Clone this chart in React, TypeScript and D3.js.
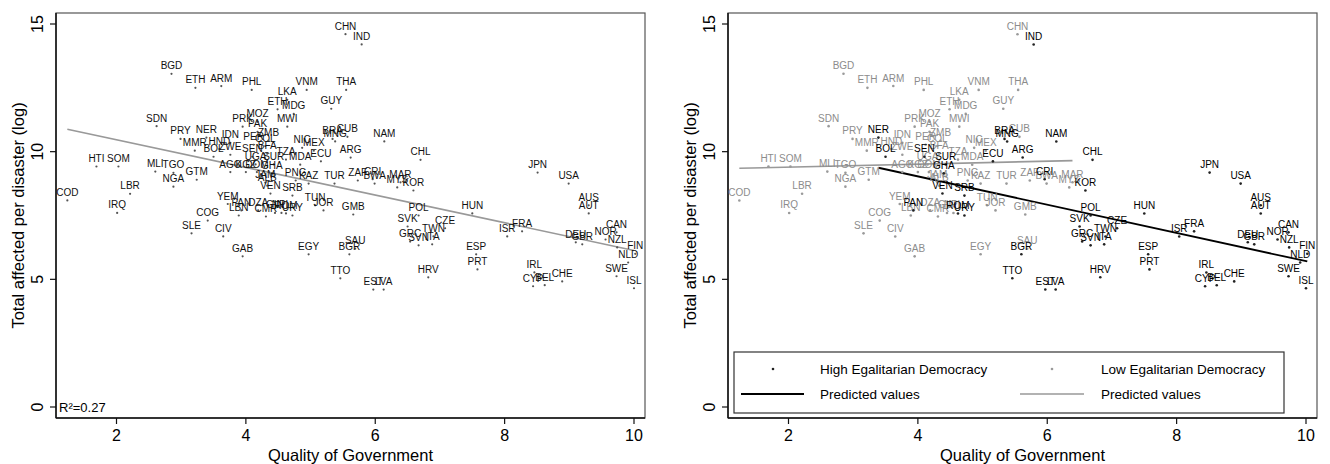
import React from 'react';
import * as d3 from 'd3';

// country codes, quality of government, total affected per disaster (log), high egalitarian democracy flag
const codes = ['BGD','ETH','ARM','PHL','VNM','LKA','ETH','MDG','GUY','THA','CHN','IND','MWI','PRK','MOZ','PAK','SDN','PRY','NER','MMR','HND','IDN','BOL','ZWE','SEN','PER','COL','ZMB','BFA','UGA','SUR','TZA','MDA','ECU','HTI','SOM','MLI','TGO','GTM','NGA','COD','LBR','IRQ','AGO','KGZ','DOM','GHA','JAM','ALB','PNG','KAZ','VEN','SRB','TUR','ZAF','CRI','BWA','MYS','MAR','KOR','ARG','CHL','NAM','BRA','MNG','CUB','NIC','MEX','PAN','DZA','LBN','CMR','GIN','ROM','URY','NPL','YEM','TUN','JOR','GMB','COG','SLE','CIV','GAB','EGY','SAU','BGR','TTO','EST','LVA','HRV','GRC','SVN','ITA','TWN','SVK','CZE','POL','HUN','ESP','PRT','ISR','FRA','IRL','CYP','BEL','CHE','DEU','GBR','NOR','CAN','NZL','FIN','NLD','SWE','ISL','AUS','AUT','JPN','USA'];
const qog = [2.85,3.22,3.62,4.09,4.94,4.64,4.49,4.74,5.32,5.55,5.54,5.79,4.64,3.95,4.18,4.18,2.62,2.99,3.39,3.21,3.59,3.76,3.5,3.76,4.1,4.12,4.3,4.35,4.33,4.15,4.43,4.62,4.84,5.16,1.69,2.03,2.6,2.88,3.24,2.88,1.24,2.21,2.01,3.76,4.0,4.17,4.4,4.3,4.33,4.77,4.97,4.38,4.72,5.37,5.73,5.96,5.99,6.34,6.39,6.59,5.62,6.7,6.14,5.34,5.38,5.57,4.87,5.05,3.93,4.19,3.89,4.31,4.45,4.62,4.72,4.55,3.72,5.07,5.2,5.66,3.41,3.16,3.65,3.95,4.97,5.69,5.6,5.46,5.97,6.13,6.82,6.54,6.67,6.88,6.9,6.5,7.08,6.67,7.5,7.56,7.58,8.04,8.27,8.46,8.44,8.62,8.89,9.1,9.2,9.56,9.73,9.74,10.02,9.91,9.73,10.0,9.3,9.3,8.51,8.99];
const affected = [13.05,12.5,12.57,12.42,12.42,12.03,11.66,11.48,11.68,12.42,14.6,14.2,10.98,10.98,11.17,10.78,11.0,10.5,10.55,10.04,10.1,10.35,9.8,9.88,9.8,10.27,10.22,10.43,9.92,9.5,9.5,9.69,9.49,9.62,9.42,9.42,9.22,9.17,8.9,8.63,8.09,8.35,7.6,9.2,9.2,9.2,9.15,8.79,8.67,8.87,8.75,8.36,8.28,8.75,8.87,8.92,8.75,8.6,8.8,8.48,9.77,9.68,10.4,10.5,10.4,10.58,10.15,10.04,7.7,7.7,7.5,7.46,7.6,7.58,7.5,7.6,7.95,7.9,7.7,7.54,7.3,6.8,6.68,5.9,5.98,6.2,5.98,5.04,4.6,4.6,5.08,6.48,6.33,6.37,6.68,7.07,7.0,7.5,7.58,5.98,5.39,6.68,6.88,5.27,4.73,4.77,4.92,6.45,6.37,6.56,6.84,6.25,6.0,5.66,5.12,4.65,7.9,7.58,9.18,8.75];
const highEgal = [0,0,0,0,0,0,0,0,0,0,0,1,0,0,0,0,0,0,1,0,0,0,1,0,1,0,0,0,0,0,1,0,0,1,0,0,0,0,0,0,0,0,0,0,0,0,1,0,0,0,0,1,1,0,0,1,0,0,0,1,1,1,1,1,1,0,0,0,1,0,0,0,0,1,1,0,0,0,0,0,0,0,0,0,0,0,1,1,1,1,1,1,1,1,1,1,1,1,1,1,1,1,1,1,1,1,1,1,1,1,1,1,1,1,1,1,1,1,1,1];

// predicted values (linear fits), end points
const fitAllX = [1.24, 10.0];
const fitAllY = [10.88, 6.13];
const fitHighX = [3.39, 10.02];
const fitHighY = [9.37, 5.7];
const fitLowX = [1.24, 6.39];
const fitLowY = [9.35, 9.65];

const xTicks = [2, 4, 6, 8, 10];
const yTicks = [0, 5, 10, 15];

const FONT = 'Liberation Sans, Arial, Helvetica, sans-serif';
const W = 1330;
const H = 464;

type Pt = { code: string; x: number; y: number; high: boolean };
const points: Pt[] = codes.map((c, i) => ({ code: c, x: qog[i], y: affected[i], high: highEgal[i] === 1 }));

const Panel = ({ off, split }: { off: number; split: boolean }) => {
  const left = 56 + off, right = 645 + off, top = 13, bottom = 418;
  const x = d3.scaleLinear().domain([2, 10]).range([116.5 + off, 634 + off]);
  const y = d3.scaleLinear().domain([0, 15]).range([407, 24]);
  const line = d3.line<[number, number]>().x(d => x(d[0])).y(d => y(d[1]));
  const seg = (xs: number[], ys: number[]) => line(xs.map((v, i) => [v, ys[i]] as [number, number])) || '';

  const ordered = split ? [...points.filter(p => !p.high), ...points.filter(p => p.high)] : points;
  const midY = (top + bottom) / 2;

  return (
    <g>
      <rect x={left} y={top} width={right - left} height={bottom - top} fill="none" stroke="#555" strokeWidth={1.2} />
      <line x1={left} x2={left} y1={top} y2={bottom} stroke="#111" strokeWidth={1.5} />
      <line x1={left} x2={right} y1={bottom} y2={bottom} stroke="#111" strokeWidth={1.5} />
      {yTicks.map(t => (
        <g key={'y' + t}>
          <line x1={left - 6} x2={left} y1={y(t)} y2={y(t)} stroke="#111" strokeWidth={1.2} />
          <text transform={`translate(${left - 13},${y(t)}) rotate(-90)`} textAnchor="middle" fontSize={16} fontFamily={FONT}>{t}</text>
        </g>
      ))}
      {xTicks.map(t => (
        <g key={'x' + t}>
          <line x1={x(t)} x2={x(t)} y1={bottom} y2={bottom + 6} stroke="#111" strokeWidth={1.2} />
          <text x={x(t)} y={bottom + 23} textAnchor="middle" fontSize={16} fontFamily={FONT}>{t}</text>
        </g>
      ))}
      <text transform={`translate(${off + 24},${midY}) rotate(-90)`} textAnchor="middle" fontSize={16.5} fontFamily={FONT}>Total affected per disaster (log)</text>
      <text x={(left + right) / 2} y={461} textAnchor="middle" fontSize={16.5} fontFamily={FONT}>Quality of Government</text>

      {split ? (
        <g>
          <path d={seg(fitLowX, fitLowY)} stroke="#999" strokeWidth={1.6} fill="none" />
          <path d={seg(fitHighX, fitHighY)} stroke="#000" strokeWidth={1.8} fill="none" />
        </g>
      ) : (
        <path d={seg(fitAllX, fitAllY)} stroke="#999" strokeWidth={1.6} fill="none" />
      )}

      {ordered.map((p, i) => {
        const col = split ? (p.high ? '#000' : '#8c8c8c') : '#111';
        const dot = split ? (p.high ? '#222' : '#9a9a9a') : '#555';
        return (
          <g key={i}>
            <circle cx={x(p.x)} cy={y(p.y)} r={split ? 1.3 : 1.1} fill={dot} />
            <text x={x(p.x)} y={y(p.y) - 4.5} textAnchor="middle" fontSize={10} fontFamily={FONT} fill={col}>{p.code}</text>
          </g>
        );
      })}

      {!split && (
        <text x={left + 3} y={y(0) + 5} fontSize={13} fontFamily={FONT}>R²=0.27</text>
      )}

      {split && (
        <g fontFamily={FONT} fontSize={13.5}>
          <rect x={734} y={352} width={550} height={61} fill="#fff" stroke="#333" strokeWidth={1.2} />
          <circle cx={773} cy={369} r={1.3} fill="#222" />
          <text x={820} y={374}>High Egalitarian Democracy</text>
          <circle cx={1052} cy={369} r={1.3} fill="#9a9a9a" />
          <text x={1101} y={374}>Low Egalitarian Democracy</text>
          <line x1={741} x2={804} y1={394} y2={394} stroke="#000" strokeWidth={1.8} />
          <text x={820} y={399}>Predicted values</text>
          <line x1={1020} x2={1084} y1={394} y2={394} stroke="#999" strokeWidth={1.6} />
          <text x={1101} y={399}>Predicted values</text>
        </g>
      )}
    </g>
  );
};

export default function App() {
  return (
    <svg width={W} height={H} style={{ position: 'absolute', left: 0, top: 0, background: '#fff' }}>
      <rect x={0} y={0} width={W} height={H} fill="#fff" />
      <Panel off={0} split={false} />
      <Panel off={672} split={true} />
    </svg>
  );
}
